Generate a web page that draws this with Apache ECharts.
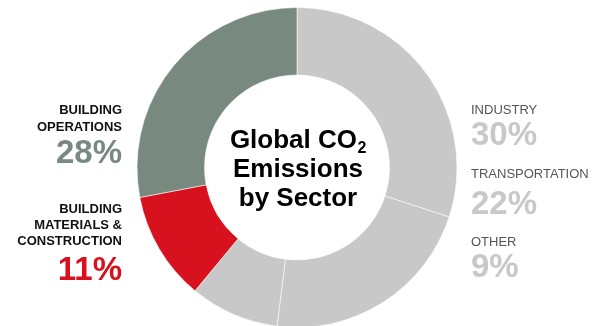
<!DOCTYPE html>
<html>
<head>
<meta charset="utf-8">
<script src="https://cdn.jsdelivr.net/npm/echarts@6/dist/echarts.min.js"></script>
<style>
html,body{margin:0;padding:0;background:#fff;}
#main{width:602px;height:326px;}
</style>
</head>
<body>
<div id="main"></div>
<script>
// Data (clockwise from 12 o'clock)
var sectors = ['Industry', 'Transportation', 'Other', 'Building Materials & Construction', 'Building Operations'];
var values = [30, 22, 9, 11, 28];
var sliceColors = ['#c8c8c8', '#c8c8c8', '#c8c8c8', '#d7111e', '#788a80'];
var labelLines = [
  ['INDUSTRY'],
  ['TRANSPORTATION'],
  ['OTHER'],
  ['BUILDING', 'MATERIALS &', 'CONSTRUCTION'],
  ['BUILDING', 'OPERATIONS']
];
var pctColors = ['#c8c8c8', '#c8c8c8', '#c8c8c8', '#d7111e', '#788a80'];
var titleLines = ['Global CO', 'Emissions', 'by Sector'];
var titleSub = '2';

var FONT = '"Liberation Sans", Arial, sans-serif';

// layout for the side labels (right side: left-aligned, left side: right-aligned)
var labelLayout = [
  {side: 'right', x: 471, lineY: [110.5], pctY: 135.5},
  {side: 'right', x: 471, lineY: [174.5], pctY: 205},
  {side: 'right', x: 471, lineY: [242], pctY: 268},
  {side: 'left', x: 122, lineY: [209, 225, 241], pctY: 270.5},
  {side: 'left', x: 122, lineY: [110.5, 127], pctY: 153.5}
];

var graphics = [];
sectors.forEach(function (s, i) {
  var L = labelLayout[i];
  var al = L.side === 'left' ? 'right' : 'left';
  labelLines[i].forEach(function (t, j) {
    graphics.push({
      type: 'text', x: L.x, y: L.lineY[j], silent: true,
      style: {
        text: t, fill: L.side === 'left' ? '#111' : '#555',
        font: (L.side === 'left' ? 'bold ' : '') + '13px ' + FONT,
        align: al, verticalAlign: 'middle', textAlign: al, textVerticalAlign: 'middle'
      }
    });
  });
  graphics.push({
    type: 'text', x: L.x, y: L.pctY, silent: true,
    style: {
      text: values[i] + '%', fill: pctColors[i],
      font: 'bold 33px ' + FONT,
      align: al, verticalAlign: 'middle', textAlign: al, textVerticalAlign: 'middle'
    }
  });
});

// centre title
var titleY = [141, 170, 198.5];
graphics.push({
  type: 'text', x: 357, y: titleY[0], silent: true,
  style: {text: titleLines[0], fill: '#000', font: 'bold 26px ' + FONT,
    align: 'right', verticalAlign: 'middle', textAlign: 'right', textVerticalAlign: 'middle'}
});
graphics.push({
  type: 'text', x: 357.5, y: 149, silent: true,
  style: {text: titleSub, fill: '#000', font: 'bold 16px ' + FONT,
    align: 'left', verticalAlign: 'middle', textAlign: 'left', textVerticalAlign: 'middle'}
});
for (var k = 1; k < titleLines.length; k++) {
  graphics.push({
    type: 'text', x: 298, y: titleY[k], silent: true,
    style: {text: titleLines[k], fill: '#000', font: 'bold 26px ' + FONT,
      align: 'center', verticalAlign: 'middle', textAlign: 'center', textVerticalAlign: 'middle'}
  });
}

var chart = echarts.init(document.getElementById('main'), null, {renderer: 'canvas'});
chart.setOption({
  animation: false,
  backgroundColor: '#fff',
  series: [{
    type: 'pie',
    center: [297, 167.5],
    radius: [92.5, 160],
    startAngle: 90,
    clockwise: true,
    avoidLabelOverlap: false,
    label: {show: false},
    labelLine: {show: false},
    emphasis: {disabled: true},
    itemStyle: {borderColor: 'rgba(255,255,255,0.55)', borderWidth: 1},
    data: sectors.map(function (s, i) {
      return {name: s, value: values[i], itemStyle: {color: sliceColors[i]}};
    })
  }],
  graphic: graphics
});
</script>
</body>
</html>
